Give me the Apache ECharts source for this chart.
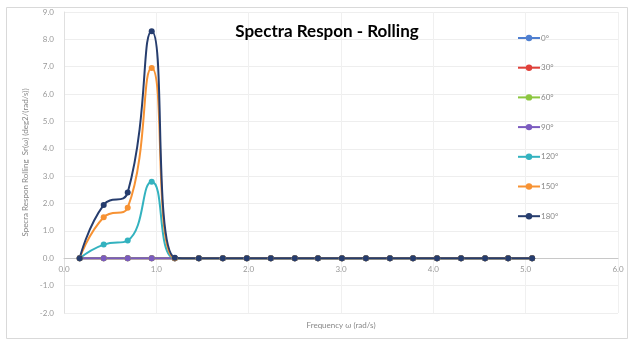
<!DOCTYPE html>
<html>
<head>
<meta charset="utf-8">
<script src="https://cdn.jsdelivr.net/npm/echarts@6/dist/echarts.min.js"></script>
<style>
  html, body { margin: 0; padding: 0; background: #fff; }
  #chart { width: 629px; height: 341px; }
</style>
</head>
<body>
<div id="chart"></div>
<script>
// frequencies (rad/s)
const freq = [0.17, 0.43, 0.69, 0.95, 1.20, 1.46, 1.72, 1.98, 2.24, 2.50,
  2.75, 3.01, 3.27, 3.53, 3.78, 4.04, 4.30, 4.56, 4.81, 5.07];

const headings = ['0°', '30°', '60°', '90°', '120°', '150°', '180°'];
const colors = ['#4f7fd0', '#e0403a', '#8cc63f', '#7b5bbf', '#33b2bf', '#f79233', '#263d6e'];

const zeros = [0, 0, 0, 0, 0, 0, 0, 0, 0, 0, 0, 0, 0, 0, 0, 0, 0, 0, 0, 0];
const s0 = zeros;
const s30 = zeros;
const s60 = zeros;
const s90 = zeros;
const s120 = [0, 0.5, 0.65, 2.8, 0, 0, 0, 0, 0, 0, 0, 0, 0, 0, 0, 0, 0, 0, 0, 0];
const s150 = [0, 1.5, 1.85, 6.95, 0, 0, 0, 0, 0, 0, 0, 0, 0, 0, 0, 0, 0, 0, 0, 0];
const s180 = [0, 1.95, 2.4, 8.3, 0.02, 0, 0, 0, 0, 0, 0, 0, 0, 0, 0, 0, 0, 0, 0, 0];
const seriesValues = [s0, s30, s60, s90, s120, s150, s180];

const chart = echarts.init(document.getElementById('chart'));

const series = headings.map((name, i) => ({
  name: name,
  type: 'line',
  smooth: 0.5,
  symbol: 'circle',
  symbolSize: 6,
  data: freq.map((f, k) => [f, seriesValues[i][k]]),
  lineStyle: { width: 2, color: colors[i] },
  itemStyle: { color: colors[i] }
}));

chart.setOption({
  animation: false,
  backgroundColor: '#fff',
  graphic: [{
    type: 'rect',
    shape: { x: 6.5, y: 7.5, width: 621, height: 331 },
    style: { fill: 'none', stroke: '#d9d9d9', lineWidth: 1 },
    silent: true
  }],
  title: {
    text: 'Spectra Respon - Rolling',
    left: 322,
    textAlign: 'center',
    top: 18,
    textStyle: { fontFamily: 'Lato', fontWeight: 'bold', fontSize: 17, color: '#000' }
  },
  legend: {
    orient: 'vertical',
    left: 512,
    top: 29,
    itemWidth: 22,
    itemHeight: 8,
    itemGap: 21.7,
    data: headings,
    textStyle: { fontFamily: 'Lato', fontSize: 8, color: '#888', padding: [0, 0, 0, -4] }
  },
  grid: { left: 64, right: 11, top: 12, bottom: 28, outerBoundsMode: 'none' },
  xAxis: {
    type: 'value',
    min: 0, max: 6, interval: 1,
    offset: -54.7,
    name: 'Frequency ω (rad/s)',
    nameLocation: 'middle',
    nameGap: 63,
    nameTextStyle: { fontFamily: 'Lato', fontSize: 8, color: '#888' },
    axisLine: { onZero: false, lineStyle: { color: '#c8c8c8' } },
    axisTick: { show: false },
    axisLabel: { fontFamily: 'Lato', fontSize: 8, color: '#999', formatter: v => v.toFixed(1), margin: 7 },
    splitLine: { show: true, lineStyle: { color: '#f0f0f0' } }
  },
  yAxis: {
    type: 'value',
    min: -2, max: 9, interval: 1,
    name: 'Specra Respon Rolling  Sr(ω) (deg2/(rad/s))',
    nameLocation: 'middle',
    nameGap: 30,
    nameTextStyle: { fontFamily: 'Lato', fontSize: 8, color: '#888' },
    axisLine: { show: true, lineStyle: { color: '#e0e0e0' } },
    axisTick: { show: false },
    axisLabel: { fontFamily: 'Lato', fontSize: 8, color: '#999', formatter: v => v.toFixed(1), margin: 10 },
    splitLine: { show: true, lineStyle: { color: '#eeeeee' } }
  },
  series: series
});
</script>
</body>
</html>
